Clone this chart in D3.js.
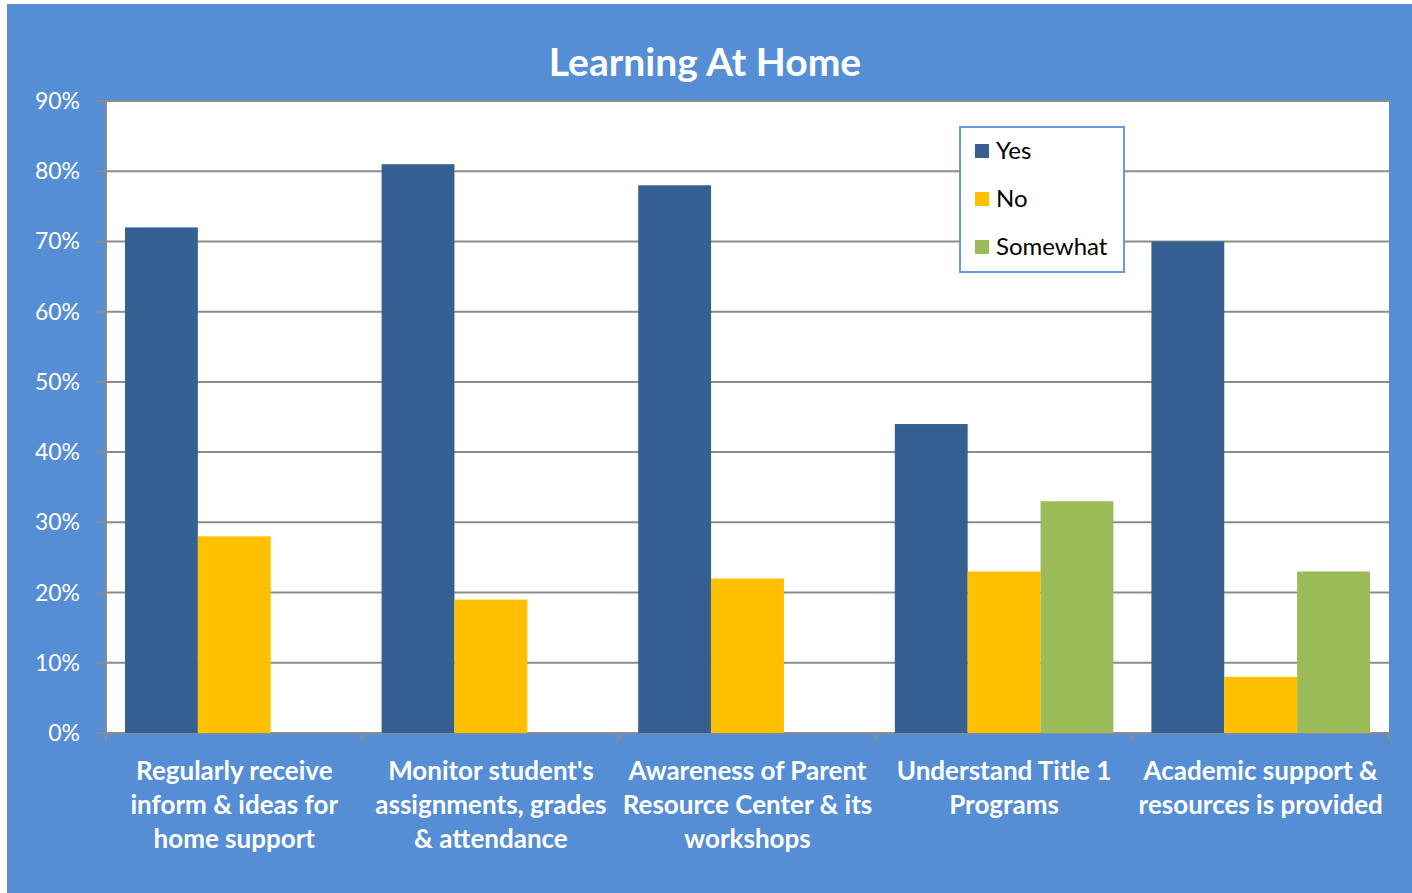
<!DOCTYPE html>
<html>
<head>
<meta charset="utf-8">
<script src="https://cdn.jsdelivr.net/npm/d3@7"></script>
<style>
  body { margin: 0; background: #fff; }
  svg { display: block; }
</style>
</head>
<body>
<svg id="chart" width="1412" height="893"></svg>
<script>
// Data
var categories = [
  ["Regularly receive", "inform & ideas for", "home support"],
  ["Monitor student's", "assignments, grades", "& attendance"],
  ["Awareness of Parent", "Resource Center & its", "workshops"],
  ["Understand Title 1", "Programs"],
  ["Academic support &", "resources is provided"]
];
var seriesNames = ["Yes", "No", "Somewhat"];
var yesValues = [72, 81, 78, 44, 70];
var noValues = [28, 19, 22, 23, 8];
var somewhatValues = [0, 0, 0, 33, 23];
var yTicks = [0, 10, 20, 30, 40, 50, 60, 70, 80, 90];

var colors = ["#376092", "#FFC000", "#9BBB59"];
var fontFace = "Lato, 'Open Sans', sans-serif";

var svg = d3.select("svg#chart");

// Blue backdrop
svg.append("rect")
  .attr("x", 7).attr("y", 4)
  .attr("width", 1405).attr("height", 889)
  .attr("fill", "#558ED5");

// Plot area
var plotLeft = 106, plotRight = 1389, plotTop = 101, plotBottom = 733;

svg.append("rect")
  .attr("x", plotLeft).attr("y", plotTop)
  .attr("width", plotRight - plotLeft).attr("height", plotBottom - plotTop)
  .attr("fill", "#fff");

var y = d3.scaleLinear().domain([0, 90]).range([plotBottom, plotTop]);

var catIdx = categories.map((d, i) => i);
var x0 = d3.scaleBand().domain(catIdx).range([plotLeft, plotRight]);
var bandPad = 19;
var x1 = d3.scaleBand().domain(seriesNames)
  .range([bandPad, x0.bandwidth() - bandPad]);

// Grid lines
svg.selectAll("line.grid")
  .data(yTicks)
  .enter().append("line")
  .attr("class", "grid")
  .attr("x1", plotLeft - 9)
  .attr("x2", plotRight)
  .attr("y1", d => y(d))
  .attr("y2", d => y(d))
  .attr("stroke", "#8c8c8c")
  .attr("stroke-width", 2);

// Left axis line
svg.append("line")
  .attr("x1", plotLeft).attr("x2", plotLeft)
  .attr("y1", plotTop).attr("y2", plotBottom)
  .attr("stroke", "#8c8c8c")
  .attr("stroke-width", 2);

// Category ticks under the axis
var catEdges = catIdx.map(i => x0(i)).concat([plotRight]);
svg.selectAll("line.ctick")
  .data(catEdges)
  .enter().append("line")
  .attr("class", "ctick")
  .attr("x1", d => d).attr("x2", d => d)
  .attr("y1", plotBottom).attr("y2", plotBottom + 8)
  .attr("stroke", "#8c8c8c")
  .attr("stroke-width", 2);

// Y labels
svg.selectAll("text.ylab")
  .data(yTicks)
  .enter().append("text")
  .attr("class", "ylab")
  .attr("x", 80)
  .attr("y", d => y(d))
  .attr("dy", "0.35em")
  .attr("text-anchor", "end")
  .attr("fill", "#fff")
  .style("font-family", fontFace)
  .style("font-size", "23px")
  .text(d => d + "%");

// Bars
var allValues = [yesValues, noValues, somewhatValues];
var bars = [];
allValues.forEach(function(vals, s) {
  vals.forEach(function(v, i) {
    bars.push({cat: i, series: seriesNames[s], color: colors[s], value: v});
  });
});

svg.selectAll("rect.bar")
  .data(bars.filter(d => d.value > 0))
  .enter().append("rect")
  .attr("class", "bar")
  .attr("x", d => x0(d.cat) + x1(d.series))
  .attr("y", d => y(d.value))
  .attr("width", x1.bandwidth())
  .attr("height", d => y(0) - y(d.value))
  .attr("fill", d => d.color);

// Category labels
var catLabels = svg.selectAll("text.cat")
  .data(categories)
  .enter().append("text")
  .attr("class", "cat")
  .attr("text-anchor", "middle")
  .attr("fill", "#fff")
  .style("font-family", fontFace)
  .style("font-size", "26px")
  .style("font-weight", "bold");

catLabels.each(function(lines, i) {
  var t = d3.select(this);
  lines.forEach(function(line, j) {
    t.append("tspan")
      .attr("x", x0(i) + x0.bandwidth() / 2)
      .attr("y", 780 + j * 34)
      .text(line);
  });
});

// Title
svg.append("text")
  .attr("x", 705)
  .attr("y", 76)
  .attr("text-anchor", "middle")
  .attr("fill", "#fff")
  .style("font-family", fontFace)
  .style("font-size", "39px")
  .style("font-weight", "bold")
  .text("Learning At Home");

// Legend
var legend = svg.append("g").attr("transform", "translate(960,127)");
legend.append("rect")
  .attr("width", 164).attr("height", 145)
  .attr("fill", "#fff")
  .attr("stroke", "#6a9ad8")
  .attr("stroke-width", 2);

var items = legend.selectAll("g.item")
  .data(seriesNames)
  .enter().append("g")
  .attr("class", "item")
  .attr("transform", (d, i) => "translate(15," + (24 + i * 48) + ")");

items.append("rect")
  .attr("x", 0).attr("y", -7)
  .attr("width", 14).attr("height", 14)
  .attr("fill", (d, i) => colors[i]);

items.append("text")
  .attr("x", 21)
  .attr("dy", "0.35em")
  .attr("fill", "#000")
  .style("font-family", fontFace)
  .style("font-size", "24px")
  .text(d => d);
</script>
</body>
</html>
